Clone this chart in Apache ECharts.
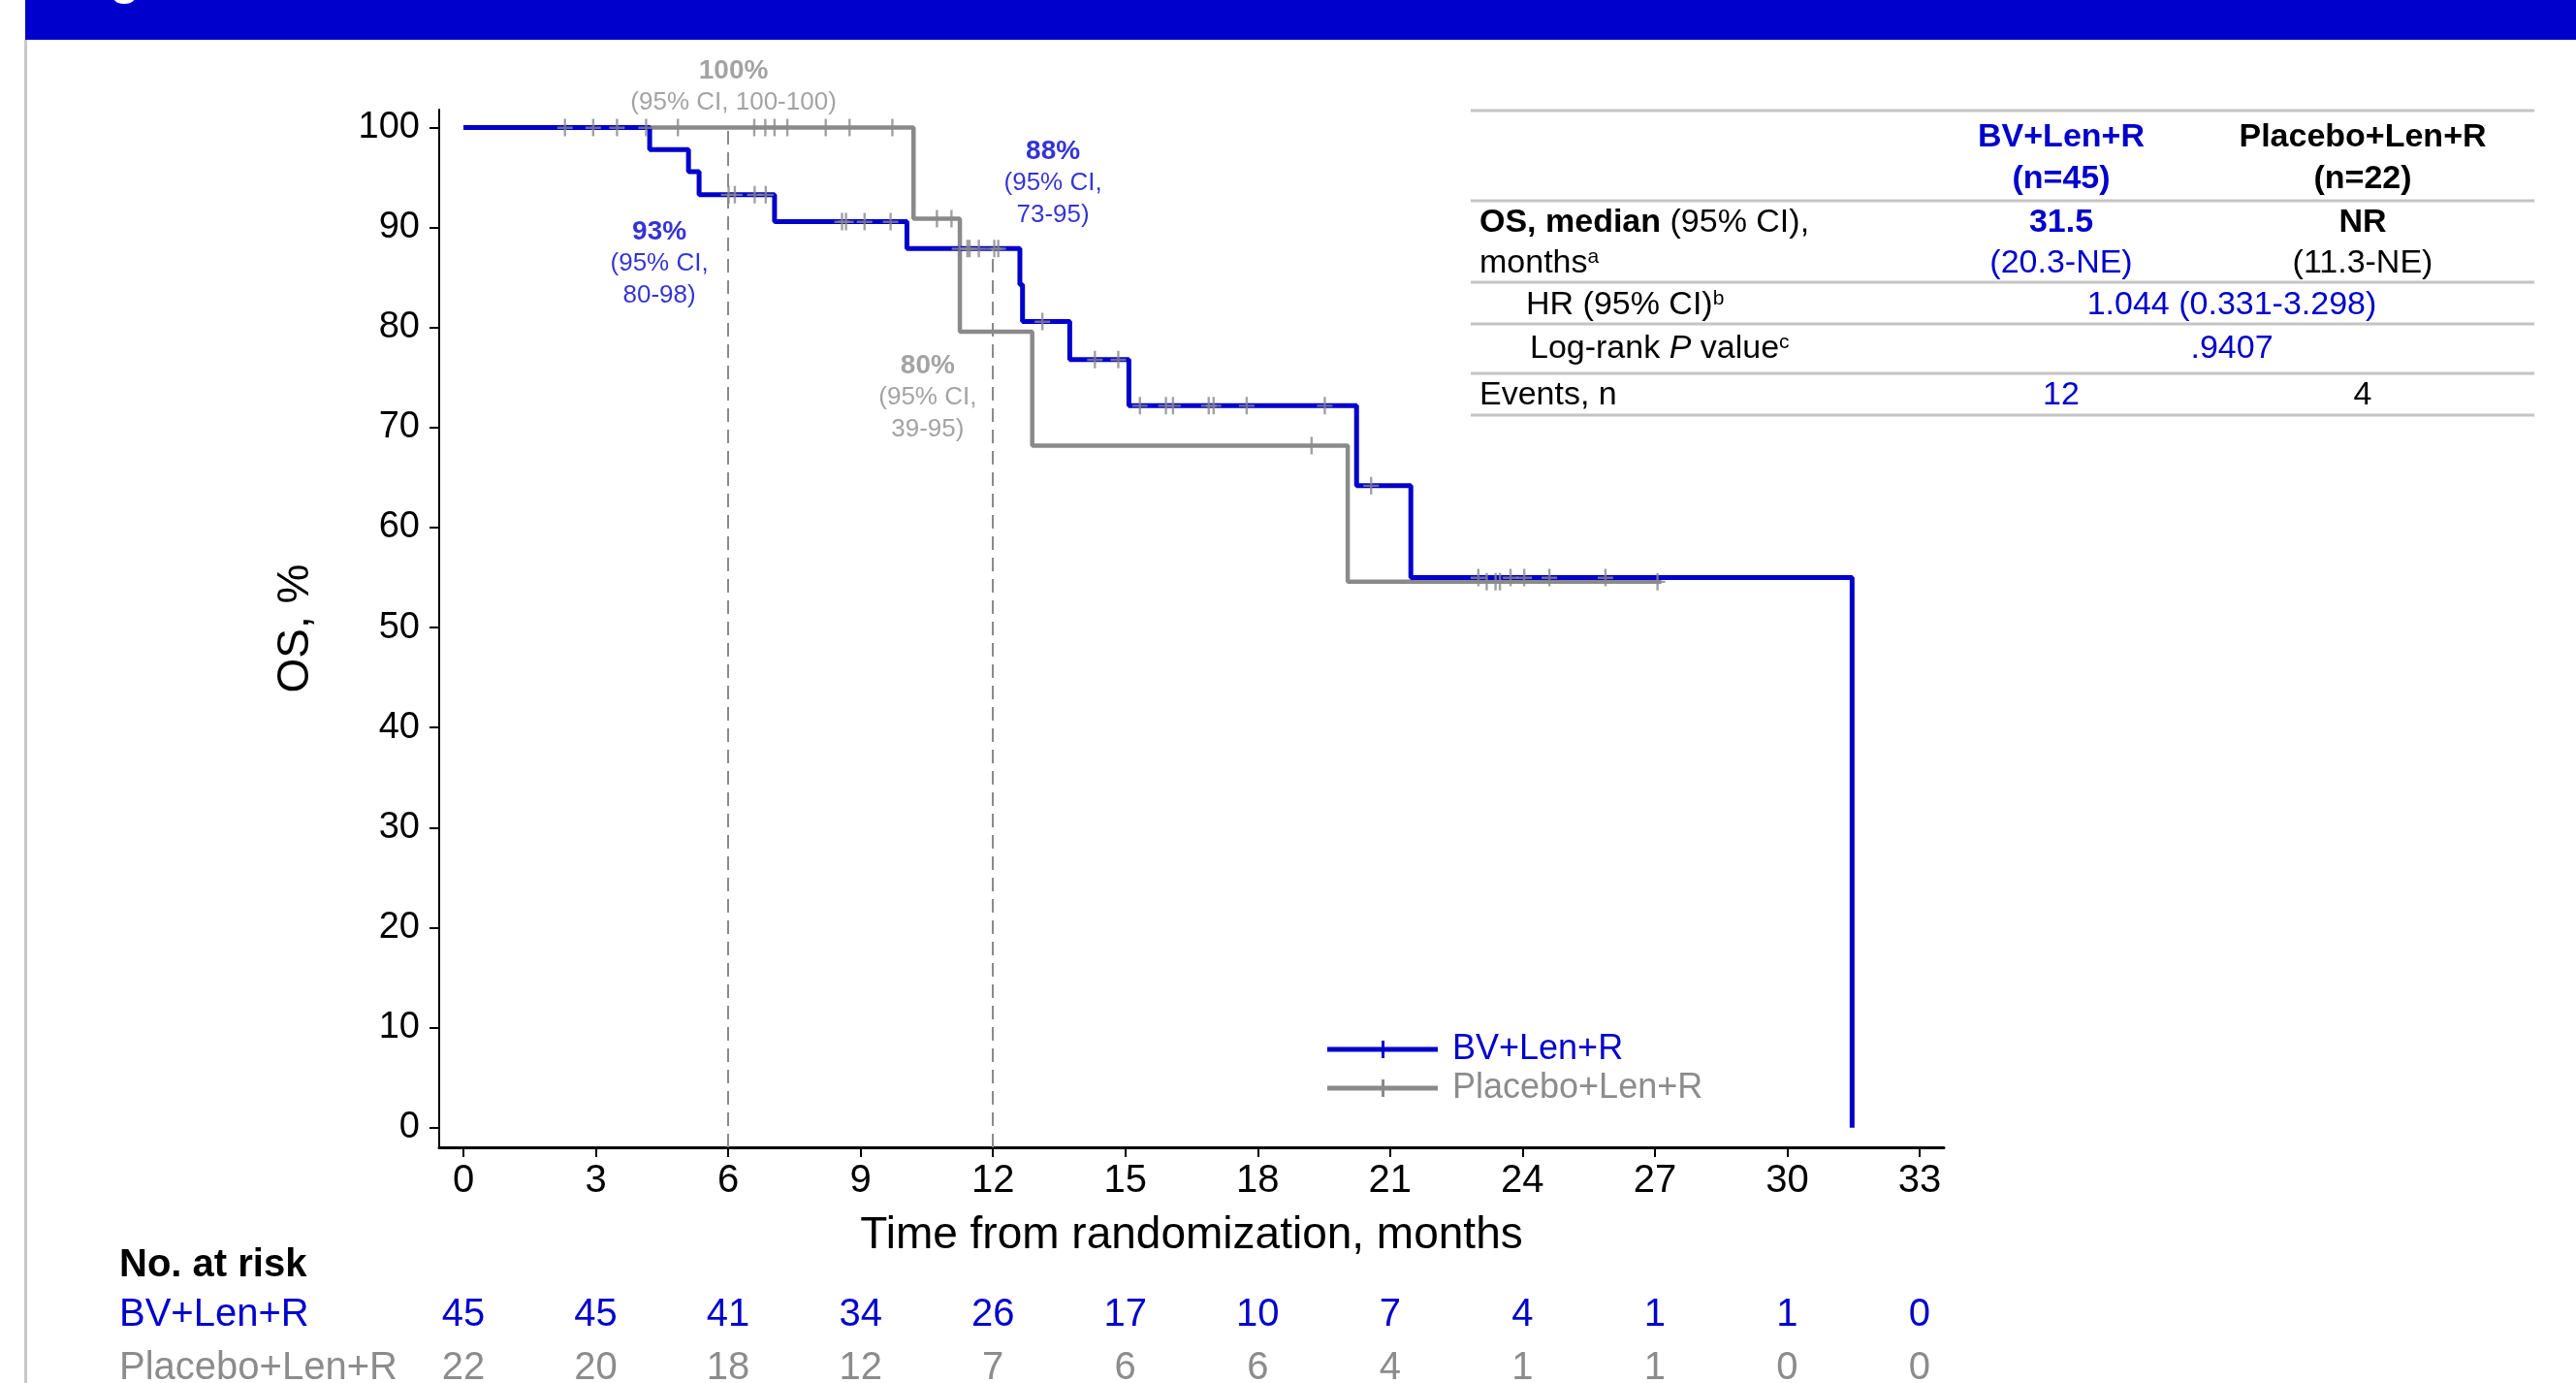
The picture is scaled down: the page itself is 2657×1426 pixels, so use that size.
<!DOCTYPE html>
<html>
<head>
<meta charset="utf-8">
<script src="https://cdn.jsdelivr.net/npm/echarts@6/dist/echarts.min.js"></script>
<style>
  html, body { margin: 0; padding: 0; background: #fff; }
  #chart { width: 2657px; height: 1426px; }
</style>
</head>
<body>
<div id="chart"></div>
<script>
const FONT = '"Liberation Sans", Arial, Helvetica, sans-serif';
const BLUE = '#0000cc';
const GREY = '#8a8a8a';
const GREY_TEXT = '#8c8c8c';

// axis ticks
const monthTicks = [0, 3, 6, 9, 12, 15, 18, 21, 24, 27, 30, 33];
const pctTicks = [0, 10, 20, 30, 40, 50, 60, 70, 80, 90, 100];

// KM steps [month, OS %]
const bvSteps = [
  [0, 100], [4.22, 97.8], [5.1, 95.6], [5.34, 93.3], [7.05, 90.6], [10.05, 87.9],
  [12.61, 84.3], [12.67, 80.6], [13.74, 76.8], [15.08, 72.2], [20.24, 64.2],
  [21.47, 55.0], [31.47, 0],
];
const placeboSteps = [
  [0, 100], [10.2, 90.9], [11.25, 79.6], [12.89, 68.2], [20.04, 54.6], [27.15, 54.6],
];

// censored times (months)
const bvCensored = [
  4.14, 6.01, 6.15, 6.6, 6.85, 8.58, 8.67, 9.09, 9.68, 11.24, 11.42, 11.47, 11.68,
  12.03, 12.12, 13.12, 14.31, 14.84, 15.33, 15.92, 16.08, 16.89, 17.0, 17.75,
  19.52, 20.57, 23.0, 23.73, 24.04, 24.61, 25.88,
];
const placeboCensored = [
  2.3, 2.94, 3.48, 4.86, 6.59, 6.84, 7.05, 7.34, 8.21, 8.75, 9.72, 10.73, 11.06,
  19.22, 23.19, 23.39, 23.49, 27.06,
];

// number at risk
const riskBV = [45, 45, 41, 34, 26, 17, 10, 7, 4, 1, 1, 0];
const riskPlacebo = [22, 20, 18, 12, 7, 6, 6, 4, 1, 1, 0, 0];

// landmark months marked with dashed lines
const landmarks = [6, 12];

const X_MIN = -0.55, X_MAX = 33.55;
const Y_MIN = -1.97, Y_MAX = 101.8;

function survAt(steps, t) {
  let s = steps[0][1];
  for (const p of steps) {
    if (p[0] <= t) s = p[1];
  }
  return s;
}

const plusIcon = 'path://M0,8h16v2.4h-16z M6.8,0h2.4v18h-2.4z';
const legendIcon = 'path://M0,6.5L114,6.5L114,11.5L0,11.5Z M56,0L59,0L59,18L56,18Z';

const chart = echarts.init(document.getElementById('chart'));

function riskAxis(offset, values, color) {
  return {
    type: 'value', min: X_MIN, max: X_MAX, position: 'bottom', offset: offset,
    axisLine: { show: false }, axisTick: { show: false }, splitLine: { show: false },
    axisLabel: {
      customValues: monthTicks, margin: 0, fontSize: 40, fontFamily: FONT, color: color,
      formatter: (v) => String(values[monthTicks.indexOf(v)]),
    },
  };
}

function note(x, y, pct, ci, color) {
  return {
    value: [x, y],
    label: {
      color: color,
      formatter: ['{b|' + pct + '}'].concat(ci.map((s) => '{n|' + s + '}')).join('\n'),
    },
  };
}

const txt = (text, x, y, extra) => ({
  type: 'text', x: x, y: y, silent: true,
  style: Object.assign({
    text: text, fontFamily: FONT, fontSize: 34, fill: '#000',
    align: 'left', verticalAlign: 'middle',
  }, extra || {}),
});
const sup = { fontSize: 21, verticalAlign: 'top', fontFamily: FONT };

const graphics = [
  { type: 'rect', shape: { x: 26, y: 0, width: 2631, height: 41 }, style: { fill: '#0000cc' }, silent: true },
  { type: 'rect', shape: { x: 25, y: 41, width: 3, height: 1385 }, style: { fill: '#c8c8c8' }, silent: true },
  txt('Figure', 69, 5, { fontSize: 50, fontWeight: 'bold', fill: '#fff', verticalAlign: 'bottom' }),
];
[114, 207, 291, 334, 385, 428].forEach((y) => {
  graphics.push({
    type: 'line', silent: true, shape: { x1: 1517, y1: y, x2: 2614, y2: y },
    style: { stroke: '#c4c4c4', lineWidth: 3 },
  });
});
graphics.push(
  txt('BV+Len+R', 2126, 142, { align: 'center', fontWeight: 'bold', fill: BLUE }),
  txt('(n=45)', 2126, 185, { align: 'center', fontWeight: 'bold', fill: BLUE }),
  txt('Placebo+Len+R', 2437, 142, { align: 'center', fontWeight: 'bold' }),
  txt('(n=22)', 2437, 185, { align: 'center', fontWeight: 'bold' }),
  txt('{b|OS, median} (95% CI),', 1526, 230, { rich: { b: { fontWeight: 'bold', fontSize: 34, fontFamily: FONT } } }),
  txt('months{s|a}', 1526, 272, { rich: { s: sup } }),
  txt('31.5', 2126, 230, { align: 'center', fontWeight: 'bold', fill: BLUE }),
  txt('(20.3-NE)', 2126, 272, { align: 'center', fill: BLUE }),
  txt('NR', 2437, 230, { align: 'center', fontWeight: 'bold' }),
  txt('(11.3-NE)', 2437, 272, { align: 'center' }),
  txt('HR (95% CI){s|b}', 1574, 315, { rich: { s: sup } }),
  txt('1.044 (0.331-3.298)', 2302, 315, { align: 'center', fill: BLUE }),
  txt('Log-rank {i|P} value{s|c}', 1578, 360, { rich: { s: sup, i: { fontStyle: 'italic', fontSize: 34, fontFamily: FONT } } }),
  txt('.9407', 2302, 360, { align: 'center', fill: BLUE }),
  txt('Events, n', 1526, 408),
  txt('12', 2126, 408, { align: 'center', fill: BLUE }),
  txt('4', 2437, 408, { align: 'center' }),
  txt('No. at risk', 123, 1305, { fontSize: 40, fontWeight: 'bold' }),
  txt('BV+Len+R', 123, 1356, { fontSize: 40, fill: BLUE }),
  txt('Placebo+Len+R', 123, 1411, { fontSize: 40, fill: GREY_TEXT }),
);

const option = {
  animation: false,
  backgroundColor: '#fff',
  textStyle: { fontFamily: FONT },
  grid: { left: 453, right: 652, top: 113, bottom: 243, outerBoundsMode: 'none', containLabel: false },
  legend: {
    orient: 'vertical', left: 1369, top: 1062, padding: 0,
    itemWidth: 114, itemHeight: 18, itemGap: 0, icon: legendIcon, selectedMode: false,
    textStyle: { fontFamily: FONT, fontSize: 36, lineHeight: 40, padding: [0, 0, 0, 10] },
    data: [
      { name: 'BV+Len+R', textStyle: { color: BLUE } },
      { name: 'Placebo+Len+R', textStyle: { color: GREY_TEXT } },
    ],
  },
  xAxis: [
    {
      type: 'value', min: X_MIN, max: X_MAX, position: 'bottom',
      name: 'Time from randomization, months', nameLocation: 'middle', nameGap: 68,
      nameTextStyle: { fontSize: 46, color: '#000', fontFamily: FONT },
      axisLine: { show: true, onZero: false, lineStyle: { color: '#000', width: 3 } },
      axisTick: { show: true, customValues: monthTicks, length: 10, lineStyle: { color: '#000', width: 2 } },
      axisLabel: { customValues: monthTicks, fontSize: 40, color: '#000', margin: 15, fontFamily: FONT },
      splitLine: { show: false },
    },
    riskAxis(153, riskBV, BLUE),
    riskAxis(208, riskPlacebo, GREY_TEXT),
  ],
  yAxis: {
    type: 'value', min: Y_MIN, max: Y_MAX,
    name: 'OS, %', nameLocation: 'middle', nameGap: 125,
    nameTextStyle: { fontSize: 46, color: '#000', fontFamily: FONT },
    axisLine: { show: true, onZero: false, lineStyle: { color: '#000', width: 2 } },
    axisTick: { show: true, customValues: pctTicks, length: 10, lineStyle: { color: '#000', width: 2 } },
    axisLabel: { customValues: pctTicks, fontSize: 38, color: '#000', margin: 20, fontFamily: FONT },
    splitLine: { show: false },
  },
  series: [
    {
      name: 'Placebo+Len+R', type: 'line', step: 'end', data: placeboSteps,
      color: GREY, symbol: 'none', lineStyle: { color: GREY, width: 4.5 }, z: 2,
      markLine: {
        silent: true, symbol: 'none', label: { show: false },
        lineStyle: { color: GREY, width: 2, type: [14, 8] },
        data: landmarks.map((t) => [
          { coord: [t, Y_MIN] },
          { coord: [t, Math.max(survAt(bvSteps, t), survAt(placeboSteps, t))] },
        ]),
      },
    },
    {
      name: 'BV+Len+R', type: 'line', step: 'end', data: bvSteps,
      color: BLUE, symbol: 'none', lineStyle: { color: BLUE, width: 5 }, z: 3,
    },
    {
      type: 'scatter', data: placeboCensored.map((t) => [t, survAt(placeboSteps, t)]),
      symbol: plusIcon, symbolSize: [16, 18], itemStyle: { color: GREY }, z: 4, silent: true,
    },
    {
      type: 'scatter', data: bvCensored.map((t) => [t, survAt(bvSteps, t)]),
      symbol: plusIcon, symbolSize: [16, 18], itemStyle: { color: GREY }, z: 4, silent: true,
    },
    {
      type: 'scatter', silent: true, clip: false, symbolSize: 0, z: 5,
      label: {
        show: true, position: 'inside', align: 'center',
        rich: {
          b: { fontWeight: 'bold', fontSize: 28, lineHeight: 33, fontFamily: FONT },
          n: { fontSize: 26, lineHeight: 33, fontFamily: FONT },
        },
      },
      data: [
        note(6.12, 104.1, '100%', ['(95% CI, 100-100)'], GREY_TEXT),
        note(4.44, 86.35, '93%', ['(95% CI,', '80-98)'], BLUE),
        note(13.36, 94.4, '88%', ['(95% CI,', '73-95)'], BLUE),
        note(10.52, 73.0, '80%', ['(95% CI,', '39-95)'], GREY_TEXT),
      ],
    },
  ],
  graphic: graphics,
};

chart.setOption(option);
</script>
</body>
</html>
